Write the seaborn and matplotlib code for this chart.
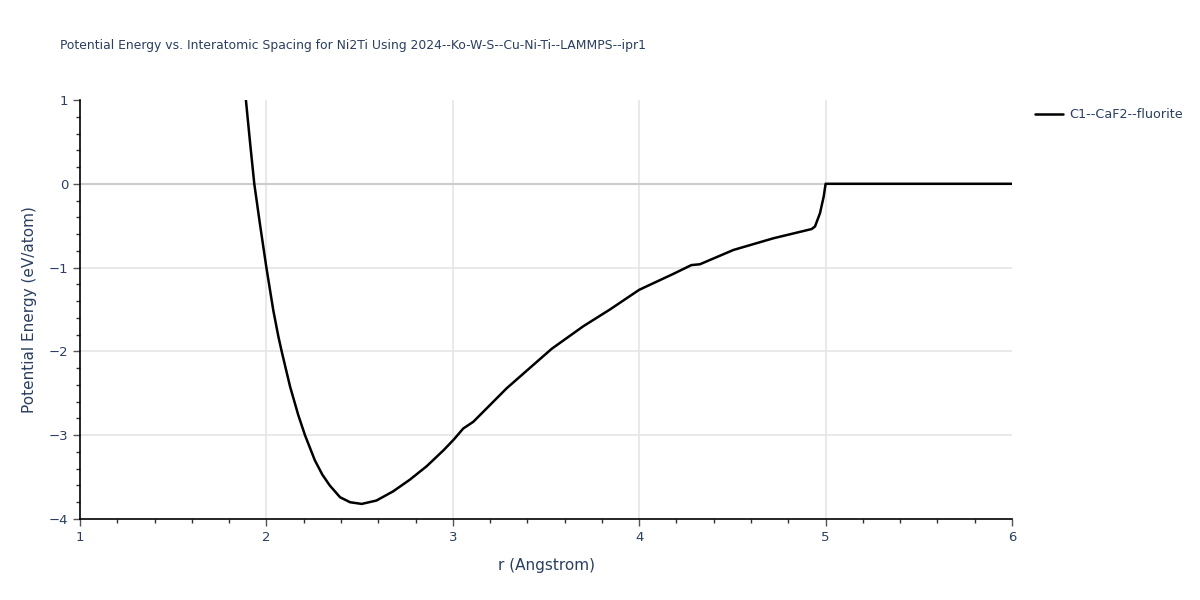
import matplotlib
matplotlib.use("Agg")
import matplotlib.pyplot as plt
from matplotlib.ticker import MultipleLocator
import seaborn as sns
import pandas as pd

r_values = [1.89, 1.912, 1.935, 1.966, 2.0, 2.037, 2.064, 2.082, 2.127, 2.171, 2.207, 2.26,
            2.30, 2.34, 2.395, 2.449, 2.511, 2.59, 2.68, 2.77, 2.86, 2.95, 3.006, 3.056,
            3.11, 3.289, 3.53, 3.70, 3.843, 4.0, 4.183, 4.28, 4.326, 4.505, 4.72, 4.925,
            4.943, 4.97, 4.99, 5.0, 6.0]
energy = [1.0, 0.50, 0.0, -0.49, -1.0, -1.51, -1.82, -2.0, -2.42, -2.76, -3.0, -3.30,
          -3.47, -3.60, -3.74, -3.80, -3.82, -3.78, -3.67, -3.53, -3.37, -3.18, -3.05, -2.92,
          -2.84, -2.44, -1.97, -1.70, -1.50, -1.265, -1.075, -0.97, -0.96, -0.79, -0.65, -0.54,
          -0.51, -0.35, -0.15, 0.0, 0.0]
series_name = "C1--CaF2--fluorite"
title = "Potential Energy vs. Interatomic Spacing for Ni2Ti Using 2024--Ko-W-S--Cu-Ni-Ti--LAMMPS--ipr1"
x_label = "r (Angstrom)"
y_label = "Potential Energy (eV/atom)"
x_grid = [2, 3, 4, 5]
y_grid = [-3, -2, -1]

df = pd.DataFrame({"r": r_values, "E": energy, "series": series_name})

sns.set_theme(style="white")
plt.rcParams['font.family'] = ['DejaVu Sans']
text_color = "#2a3f5f"

fig = plt.figure(figsize=(12, 6), dpi=100)
ax = fig.add_axes([80/1200, 1 - 519/600, (1012-80)/1200, (519-100)/600])

ax.set_xlim(1, 6)
ax.set_ylim(-4, 1)
ax.xaxis.set_major_locator(MultipleLocator(1))
ax.xaxis.set_minor_locator(MultipleLocator(0.2))
ax.yaxis.set_major_locator(MultipleLocator(1))
ax.yaxis.set_minor_locator(MultipleLocator(0.2))
ax.grid(False)
for gx in x_grid:
    ax.axvline(gx, color="#e5e5e5", linewidth=1.2, zorder=0)
for gy in y_grid:
    ax.axhline(gy, color="#e5e5e5", linewidth=1.2, zorder=0)
ax.axhline(0, color="#cccccc", linewidth=1.5, zorder=1)

sns.lineplot(data=df, x="r", y="E", hue="series", palette=["black"], linewidth=1.8,
             ax=ax, sort=False, estimator=None, zorder=3)

for side in ["top", "right"]:
    ax.spines[side].set_visible(False)
for side in ["left", "bottom"]:
    ax.spines[side].set_color("black")
    ax.spines[side].set_linewidth(1.2)

ax.tick_params(axis="both", which="major", direction="out", length=5, width=1,
               color="#555555", labelcolor=text_color, labelsize=9.5, bottom=True, left=True)
ax.tick_params(axis="both", which="minor", direction="out", length=3, width=1,
               color="#333333", bottom=True, left=True)
ax.set_yticks([-4, -3, -2, -1, 0, 1])
ax.set_yticklabels(["\u22124", "\u22123", "\u22122", "\u22121", "0", "1"])

ax.set_xlabel(x_label, color=text_color, fontsize=11, labelpad=10)
ax.set_ylabel(y_label, color=text_color, fontsize=11, labelpad=8)
fig.text(60/1200, 1 - 46/600, title, color=text_color, fontsize=8.9, ha="left", va="center")

leg = ax.legend(loc="center left", bbox_to_anchor=(1030/1200, 1 - 115/600),
                bbox_transform=fig.transFigure, frameon=False,
                fontsize=9.2, handlelength=2.2, handletextpad=0.5, borderaxespad=0.0)
for t in leg.get_texts():
    t.set_color(text_color)

fig.savefig("out.png", dpi=100)
